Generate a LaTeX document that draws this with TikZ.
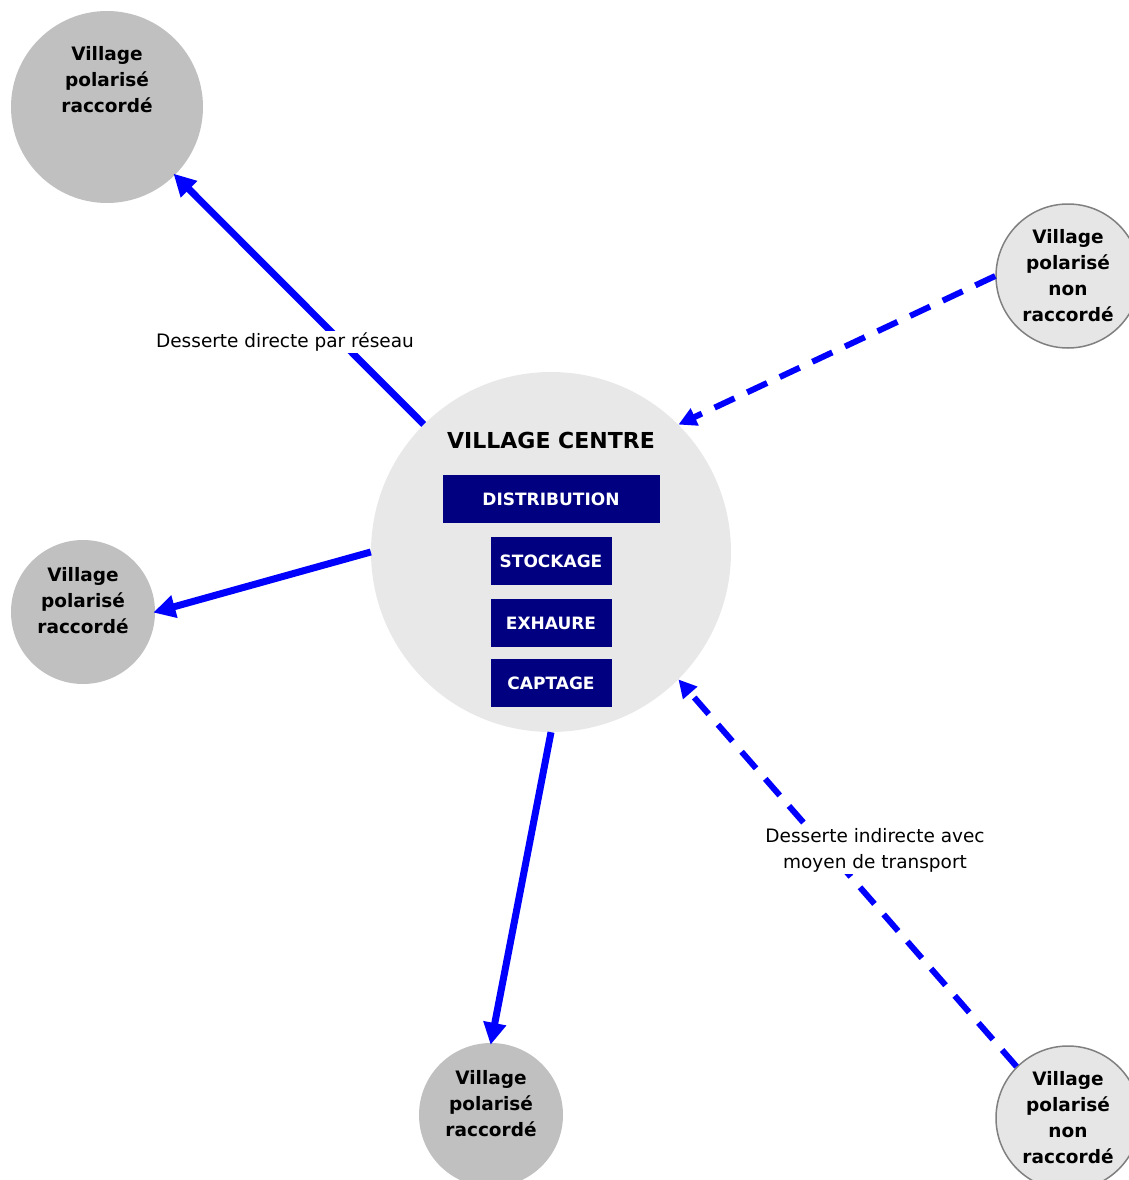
\documentclass[tikz,border=0pt]{standalone}
\usepackage{fontspec}
\setmainfont{DejaVu Sans}
\usetikzlibrary{positioning,arrows.meta}

\definecolor{villagegray}{HTML}{C0C0C0}
\definecolor{centregray}{HTML}{E8E8E8}
\definecolor{noncgray}{HTML}{E6E6E6}
\definecolor{boxnavy}{HTML}{000080}
\definecolor{linkblue}{HTML}{0000FF}

\begin{document}
\begin{tikzpicture}[
  x=1pt, y=-1pt,
  % village circles
  village/.style={circle, inner sep=0pt, minimum size=144pt},
  raccorde/.style={village, fill=villagegray},
  nonraccorde/.style={village, fill=noncgray, draw=gray, line width=1.5pt},
  vtext/.style={align=center, font=\fontsize{18.5}{26}\selectfont\bfseries},
  % boxes inside the centre
  fonction/.style={fill=boxnavy, text=white, minimum height=48pt,
    inner sep=0pt, font=\fontsize{17}{20}\selectfont\bfseries},
  % connectors
  direct/.style={linkblue, line width=7pt,
    -{Triangle[length=22pt,width=22pt]}, shorten >=-2pt},
  indirect/.style={linkblue, line width=6pt, dash pattern=on 22pt off 14pt,
    -{Triangle[length=18pt,width=18pt]}},
  legende/.style={fill=white, align=center, inner sep=2pt,
    font=\fontsize{18.5}{26}\selectfont},
]

% canvas
\useasboundingbox (0,0) rectangle (1128,1180);

% ---------------------------------------------------------------
% Village centre
% ---------------------------------------------------------------
\node[circle, fill=centregray, minimum size=360pt, inner sep=0pt] (centre) at (551,552) {};
\node[font=\fontsize{22}{26}\selectfont\bfseries] (titre) at (551,440) {VILLAGE CENTRE};

\node[fonction, minimum width=217pt] (distribution) at (551,499) {DISTRIBUTION};
\node[fonction, minimum width=121pt] (stockage) at (551,561) {STOCKAGE};
\node[fonction, minimum width=121pt] (exhaure) at (551,623) {EXHAURE};
\node[fonction, minimum width=121pt] (captage) at (551,683) {CAPTAGE};

% ---------------------------------------------------------------
% Villages polarises
% ---------------------------------------------------------------
\node[raccorde, minimum size=192pt] (vpr1) at (107,107) {};
\node[vtext] at (107,80) {Village\\polarisé\\raccordé};

% text sits a little above the centre
\node[raccorde, vtext, text depth=24pt] (vpr2) at (83,612) {Village\\polarisé\\raccordé};
\node[raccorde, vtext, text depth=24pt] (vpr3) at (491,1115) {Village\\polarisé\\raccordé};

\node[nonraccorde, vtext] (vpn1) at (1068,276) {Village\\polarisé\\non\\raccordé};
\node[nonraccorde, vtext] (vpn2) at (1068,1118) {Village\\polarisé\\non\\raccordé};

% ---------------------------------------------------------------
% Dessertes
% ---------------------------------------------------------------
\draw[direct] (centre) -- (vpr1);
\draw[direct] (centre.west) -- (vpr2.east);
\draw[direct] (centre.south) -- (vpr3.north);

\draw[indirect] (vpn1.west) -- (centre.45);
\draw[indirect] (vpn2.135) -- (centre.-45);

% labels
\node[legende] (lbldirect) at (285,342) {Desserte directe par réseau};
\node[legende] (lblindirect) at (875,850) {Desserte indirecte avec\\moyen de transport};

\end{tikzpicture}
\end{document}
